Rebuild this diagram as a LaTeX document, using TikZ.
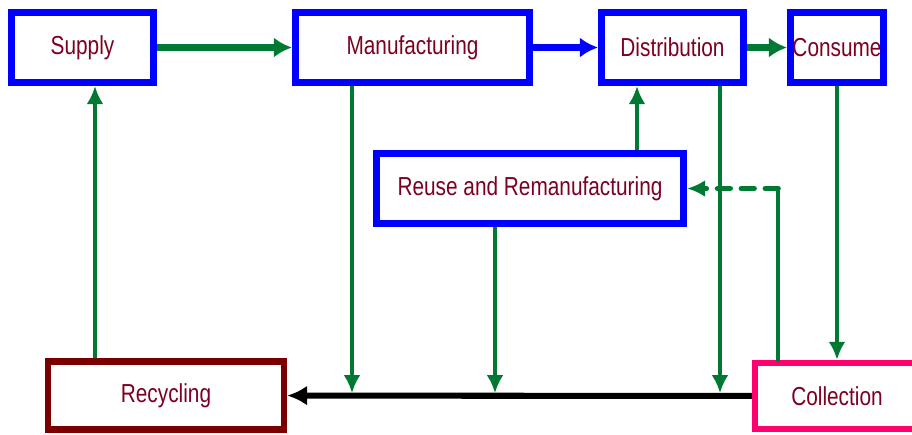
\documentclass[tikz,border=0pt]{standalone}
\usepackage{fontspec}
\setmainfont{Liberation Sans}[FakeStretch=0.8]
\usetikzlibrary{arrows.meta}

\definecolor{flowgreen}{RGB}{0,122,51}
\definecolor{boxblue}{RGB}{0,0,255}
\definecolor{recred}{RGB}{122,0,0}
\definecolor{colpink}{RGB}{255,0,110}
\definecolor{txtred}{RGB}{125,0,35}

\begin{document}
\begin{tikzpicture}[x=0.025cm,y=-0.025cm,
  stage/.style={draw=boxblue,line width=5pt,fill=white,inner sep=0pt,
    minimum height=1.75cm,text=txtred,font=\fontsize{18.5}{20}\selectfont},
  flow/.style={draw=flowgreen,line width=3.4pt,-{Latex[length=0.45cm,width=0.42cm]}},
  thickflow/.style={line width=4.5pt,-{Latex[length=0.45cm,width=0.5cm]}},
  back/.style={draw=black,line width=4.3pt,-{Latex[length=0.5cm,width=0.5cm]}}]

\useasboundingbox (0,0) rectangle (912,434);
\clip (0,0) rectangle (912,434);

% --- stages ------------------------------------------------------------
\node[stage,minimum width=3.55cm] (supply) at (82.5,47.5) {Supply};
\node[stage,minimum width=5.85cm] (manuf) at (412.5,47.5) {Manufacturing};
\node[stage,minimum width=3.55cm] (distr) at (672.5,47.5) {Distribution};
\node[stage,minimum width=2.325cm] (consume) at (837,47.5) {Consume};
\node[stage,minimum width=7.675cm] (reuse) at (530,188.5) {Reuse and Remanufacturing};
\node[stage,draw=recred,line width=4.5pt,minimum width=5.9cm,minimum height=1.7cm]
  (recyc) at (166,395.5) {Recycling};
\node[stage,draw=colpink,line width=4.5pt,minimum width=4.1cm,minimum height=1.65cm]
  (collect) at (837,396) {Collection};

% --- forward chain -----------------------------------------------------
\draw[flow,thickflow] (supply) -- (manuf);
\draw[flow,thickflow,draw=boxblue] (manuf) -- (distr);
\draw[flow,thickflow] (distr) -- (consume);
\draw[flow] (consume) -- (collect);

% --- return line -------------------------------------------------------
\draw[back] (collect) -- (recyc);

\coordinate (xs) at (95,0);
\coordinate (xm) at (352,0);
\coordinate (xr) at (495,0);
\coordinate (xd) at (637,0);
\coordinate (xt) at (720,0);
\coordinate (bend) at (778,188.5);

\draw[flow,shorten >=2pt] (manuf.south -| xm) -- (collect.west -| xm);
\draw[flow,shorten >=2pt] (reuse.south -| xr) -- (collect.west -| xr);
\draw[flow,shorten >=2pt] (distr.south -| xt) -- (collect.west -| xt);
\draw[flow] (reuse.north -| xd) -- (distr.south -| xd);
\draw[flow] (recyc.north -| xs) -- (supply.south -| xs);

% --- collected goods back to reuse -------------------------------------
\draw[flow,-,line cap=round] (collect.north -| bend) -- (bend);
\draw[flow,line width=4pt,dash pattern=on 9pt off 8pt,line cap=round] (bend) -- (reuse.east);
\end{tikzpicture}
\end{document}
